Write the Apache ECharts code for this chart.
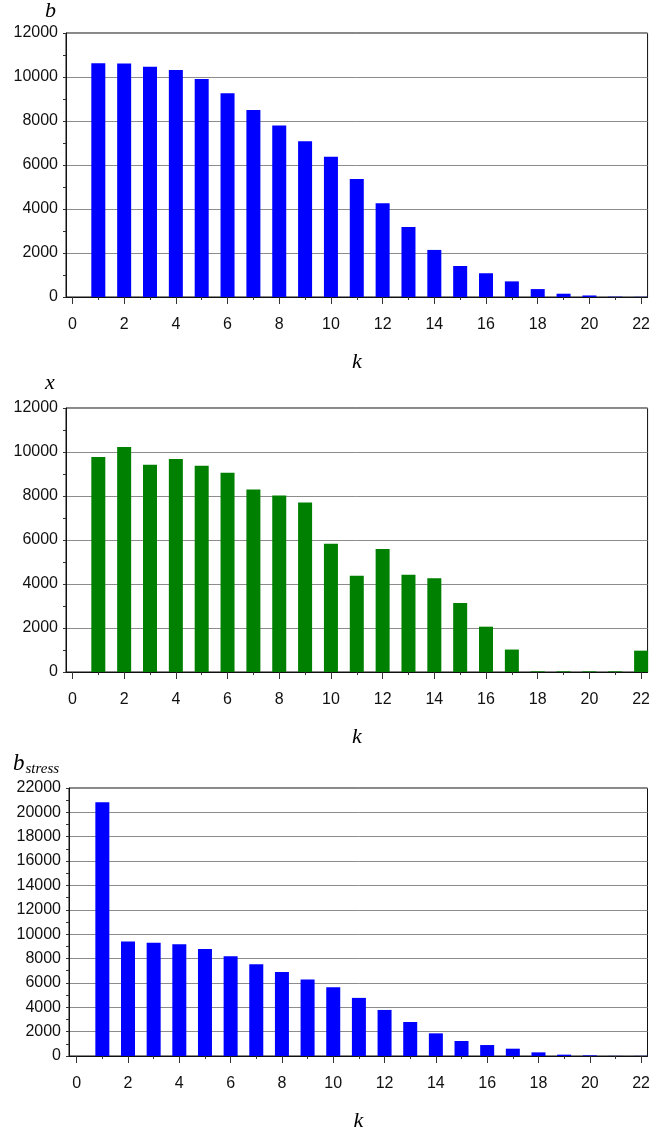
<!DOCTYPE html>
<html>
<head>
<meta charset="utf-8">
<script src="https://cdn.jsdelivr.net/npm/echarts@6.0.0/dist/echarts.min.js"></script>
<style>
  html, body { margin: 0; padding: 0; background: #fff; }
  #chart { width: 653px; height: 1137px; }
</style>
</head>
<body>
<div id="chart"></div>
<script>
// k = 1..22
const ks = [1, 2, 3, 4, 5, 6, 7, 8, 9, 10, 11, 12, 13, 14, 15, 16, 17, 18, 19, 20, 21, 22];

// panel 1: b
const bVals = [10620, 10610, 10470, 10320, 9910, 9260, 8500, 7790, 7080, 6380, 5360,
               4260, 3180, 2140, 1410, 1080, 710, 360, 150, 70, 15, 8];

// panel 2: x
const xVals = [9770, 10230, 9420, 9680, 9380, 9060, 8290, 8020, 7700, 5830, 4380,
               5590, 4420, 4260, 3140, 2060, 1020, 30, 30, 30, 30, 970];

// panel 3: b_stress
const bStressVals = [20820, 9400, 9290, 9180, 8790, 8190, 7530, 6900, 6270, 5640, 4770,
                     3780, 2790, 1860, 1230, 900, 600, 300, 110, 50, 10, 10];

// tick labels
const majorK = [0, 2, 4, 6, 8, 10, 12, 14, 16, 18, 20, 22];
const minorK = [1, 3, 5, 7, 9, 11, 13, 15, 17, 19, 21];

const FONT = "'Liberation Sans', Arial, sans-serif";
const SERIF = "'Liberation Serif', 'DejaVu Serif', serif";
const BLUE = '#0000ff';
const GREEN = '#008000';

const pairs = vals => ks.map((k, i) => [k, vals[i]]);

// three stacked panels
const panels = [
  { top: 33,  height: 264, left: 66, xMin: -0.25, xMax: 22.25, yMax: 12000, vals: bVals,       color: BLUE },
  { top: 408, height: 264, left: 66, xMin: -0.25, xMax: 22.25, yMax: 12000, vals: xVals,       color: GREEN },
  { top: 788, height: 268, left: 69, xMin: -0.3,  xMax: 22.25, yMax: 22000, vals: bStressVals, color: BLUE }
];

const grid = [], xAxis = [], yAxis = [], series = [];

panels.forEach((p, i) => {
  grid.push({
    left: p.left, right: 3, top: p.top, height: p.height,
    show: true, borderColor: '#111', borderWidth: 1, backgroundColor: 'transparent'
  });

  // major ticks + labels at even k
  xAxis.push({
    type: 'value', gridIndex: i, position: 'bottom', min: p.xMin, max: p.xMax,
    name: 'k', nameLocation: 'middle', nameGap: 54,
    nameTextStyle: { fontFamily: SERIF, fontStyle: 'italic', fontSize: 22, color: '#000' },
    axisLine: { onZero: false, lineStyle: { color: '#111', width: 1 } },
    axisTick: { show: true, length: 7, customValues: majorK, lineStyle: { color: '#333' } },
    axisLabel: { customValues: majorK, margin: 20, fontFamily: FONT, fontSize: 16, color: '#111' },
    splitLine: { show: false }
  });
  // minor ticks at odd k
  xAxis.push({
    type: 'value', gridIndex: i, position: 'bottom', min: p.xMin, max: p.xMax,
    axisLine: { show: false },
    axisTick: { show: true, length: 3, customValues: minorK, lineStyle: { color: '#333' } },
    axisLabel: { show: false },
    splitLine: { show: false }
  });

  yAxis.push({
    type: 'value', gridIndex: i, min: 0, max: p.yMax, interval: 2000,
    axisLine: { show: true, onZero: false, lineStyle: { color: '#111', width: 1 } },
    axisTick: { show: true, length: 3, lineStyle: { color: '#333' } },
    minorTick: { show: true, splitNumber: 2, length: 3, lineStyle: { color: '#333' } },
    axisLabel: { margin: 8, fontFamily: FONT, fontSize: 16, color: '#111', formatter: v => String(v) },
    splitLine: { show: true, lineStyle: { color: '#8c8c8c', width: 1 } }
  });

  series.push({
    type: 'bar', xAxisIndex: i * 2, yAxisIndex: i,
    data: pairs(p.vals), barWidth: 14,
    itemStyle: { color: p.color },
    silent: true, animation: false
  });
});

// axis titles
const titleStyle = { fontFamily: SERIF, fontStyle: 'italic', fontSize: 22, fill: '#000' };
const graphic = [
  { type: 'text', left: 45, top: 0, style: Object.assign({ text: 'b' }, titleStyle) },
  { type: 'text', left: 45, top: 372, style: Object.assign({ text: 'x' }, titleStyle) },
  { type: 'text', left: 13, top: 752, style: {
      text: '{m|b}{s|stress}',
      rich: {
        m: { fontFamily: SERIF, fontStyle: 'italic', fontSize: 23, fill: '#000' },
        s: { fontFamily: SERIF, fontStyle: 'italic', fontSize: 15, fill: '#000', padding: [11, 0, 0, 1] }
      }
  } }
];

const chart = echarts.init(document.getElementById('chart'), null, { renderer: 'canvas' });
chart.setOption({
  animation: false,
  backgroundColor: '#fff',
  grid, xAxis, yAxis, series, graphic
});
</script>
</body>
</html>
